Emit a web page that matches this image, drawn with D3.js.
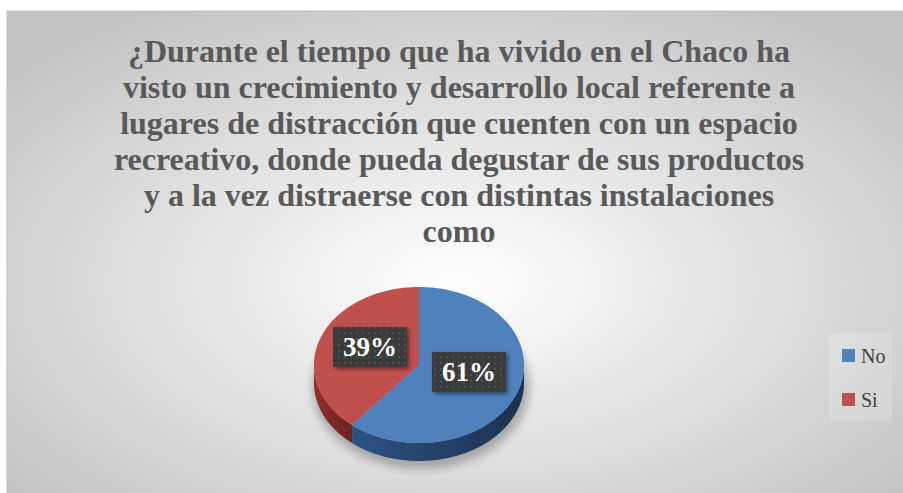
<!DOCTYPE html>
<html>
<head>
<meta charset="utf-8">
<script src="https://cdn.jsdelivr.net/npm/d3@7"></script>
<style>
  html, body { margin: 0; padding: 0; background: #fff; }
  svg { display: block; }
</style>
</head>
<body>
<div id="chart"></div>
<script>
// chart data
const categories = ['No', 'Si'];
const values = [61, 39];
const labels = ['61%', '39%'];
const colors = ['#4F81BD', '#C0504D'];
const sideColors = [['#2d5283', '#1c3250'], ['#8e2f2d', '#6e2220']];
const titleLines = [
  '¿Durante el tiempo que ha vivido en el Chaco ha',
  'visto un crecimiento y desarrollo local referente a',
  'lugares de distracción que cuenten con un espacio',
  'recreativo, donde pueda degustar de sus productos',
  'y a la vez distraerse con distintas instalaciones',
  'como'
];

const width = 903;
const height = 493;

const svg = d3.select('#chart')
  .append('svg')
  .attr('width', width)
  .attr('height', height);

const defs = svg.append('defs');

// background gradient
const bg = defs.append('radialGradient')
  .attr('id', 'bg')
  .attr('cx', '50%').attr('cy', '55%').attr('r', '65%');
bg.append('stop').attr('offset', '0%').attr('stop-color', '#ffffff');
bg.append('stop').attr('offset', '100%').attr('stop-color', '#c4c4c4');

// dotted pattern for the data labels
const pat = defs.append('pattern')
  .attr('id', 'dots')
  .attr('width', 6).attr('height', 6)
  .attr('patternUnits', 'userSpaceOnUse');
pat.append('rect').attr('width', 6).attr('height', 6).attr('fill', '#3a3a3a');
pat.append('circle').attr('cx', 3).attr('cy', 3).attr('r', 0.9).attr('fill', '#5a5a5a');

const blur = defs.append('filter').attr('id', 'soft')
  .attr('x', '-30%').attr('y', '-30%').attr('width', '160%').attr('height', '160%');
blur.append('feGaussianBlur').attr('stdDeviation', 4);

const boxShadow = defs.append('filter').attr('id', 'boxshadow')
  .attr('x', '-30%').attr('y', '-30%').attr('width', '160%').attr('height', '160%');
boxShadow.append('feDropShadow')
  .attr('dx', 2).attr('dy', 2).attr('stdDeviation', 2)
  .attr('flood-color', '#000').attr('flood-opacity', 0.45);

sideColors.forEach((c, i) => {
  const g = defs.append('linearGradient')
    .attr('id', 'side' + i)
    .attr('x1', '0%').attr('x2', '100%').attr('y1', '0%').attr('y2', '0%');
  g.append('stop').attr('offset', '0%').attr('stop-color', c[0]);
  g.append('stop').attr('offset', '100%').attr('stop-color', c[1]);
});

// chart area
svg.append('rect')
  .attr('x', 7).attr('y', 11)
  .attr('width', width).attr('height', height)
  .attr('fill', 'url(#bg)')
  .attr('stroke', '#bfbfbf');

// title
const title = svg.append('text')
  .attr('text-anchor', 'middle')
  .style('font-family', '"Liberation Serif", "Times New Roman", serif')
  .style('font-weight', 'bold')
  .style('fill', '#595959');

const titleSize = 32;
title.selectAll('tspan')
  .data(titleLines)
  .enter()
  .append('tspan')
  .attr('x', 459)
  .attr('y', (d, i) => 62 + i * 36)
  .style('font-size', titleSize + 'px')
  .text(d => d);

// 3D pie
const cx = 419, cy = 365, rx = 105, ry = 78, depth = 18;

const pie = d3.pie().sort(null).value(d => d);
const arcs = pie(values);

// angle measured clockwise from 12 o'clock
const px = (a, r = 1) => cx + rx * r * Math.sin(a);
const py = (a, r = 1, dz = 0) => cy - ry * r * Math.cos(a) + dz;

function topPath(a0, a1) {
  const steps = Math.max(2, Math.ceil((a1 - a0) / 0.02));
  const pts = d3.range(steps + 1).map(k => {
    const a = a0 + (a1 - a0) * k / steps;
    return [px(a), py(a)];
  });
  return 'M' + cx + ',' + cy + 'L' + pts.map(p => p.join(',')).join('L') + 'Z';
}

function sidePath(a0, a1) {
  const lo = Math.max(a0, Math.PI / 2);
  const hi = Math.min(a1, Math.PI * 1.5);
  if (hi <= lo) return null;
  const steps = Math.max(2, Math.ceil((hi - lo) / 0.02));
  const top = d3.range(steps + 1).map(k => {
    const a = lo + (hi - lo) * k / steps;
    return [px(a), py(a)];
  });
  const bottom = top.slice().reverse().map(p => [p[0], p[1] + depth]);
  return 'M' + top.concat(bottom).map(p => p.join(',')).join('L') + 'Z';
}

// soft shadow beneath the pie
svg.append('ellipse')
  .attr('cx', cx + 2).attr('cy', cy + depth + 4)
  .attr('rx', rx + 4).attr('ry', ry + 4)
  .attr('fill', '#000')
  .attr('opacity', 0.25)
  .attr('filter', 'url(#soft)');

const pieG = svg.append('g');

arcs.forEach((d, i) => {
  const p = sidePath(d.startAngle, d.endAngle);
  if (p) {
    pieG.append('path')
      .attr('d', p)
      .attr('fill', 'url(#side' + i + ')');
  }
});

pieG.selectAll('path.top')
  .data(arcs)
  .enter()
  .append('path')
  .attr('class', 'top')
  .attr('d', d => topPath(d.startAngle, d.endAngle))
  .attr('fill', (d, i) => colors[i]);

// data labels
const labelPos = [[469, 372], [370, 347]];
const boxW = 74, boxH = 40;
const labG = svg.append('g');
arcs.forEach((d, i) => {
  const [lx, ly] = labelPos[i];
  labG.append('rect')
    .attr('x', lx - boxW / 2).attr('y', ly - boxH / 2)
    .attr('width', boxW).attr('height', boxH)
    .attr('fill', 'url(#dots)')
    .attr('filter', 'url(#boxshadow)');
  labG.append('text')
    .attr('x', lx).attr('y', ly + 9)
    .attr('text-anchor', 'middle')
    .style('font-family', '"Liberation Serif", "Times New Roman", serif')
    .style('font-weight', 'bold')
    .style('font-size', '27px')
    .style('fill', '#ffffff')
    .text(labels[i]);
});

// legend
const legend = svg.append('g');
legend.append('rect')
  .attr('x', 829).attr('y', 333)
  .attr('width', 63).attr('height', 88)
  .attr('fill', '#ffffff')
  .attr('opacity', 0.15);

categories.forEach((c, i) => {
  const y = 349 + i * 44;
  legend.append('rect')
    .attr('x', 842).attr('y', y)
    .attr('width', 13).attr('height', 13)
    .attr('fill', colors[i]);
  legend.append('text')
    .attr('x', 861).attr('y', y + 14)
    .style('font-family', '"Liberation Serif", "Times New Roman", serif')
    .style('font-size', '20px')
    .style('fill', '#404040')
    .text(c);
});
</script>
</body>
</html>
